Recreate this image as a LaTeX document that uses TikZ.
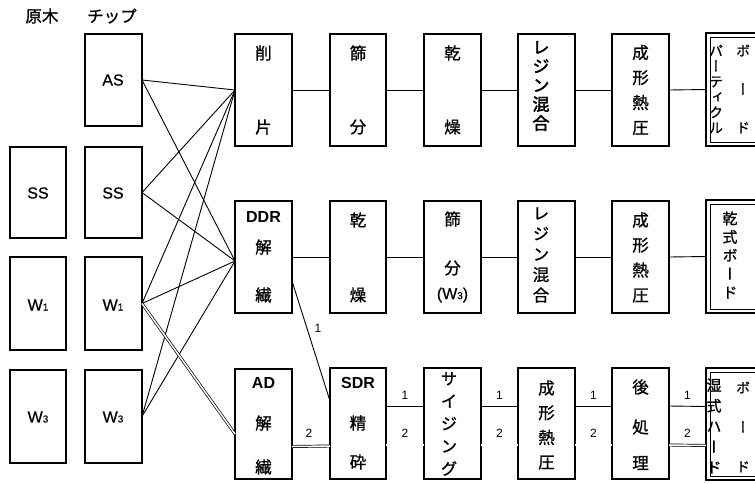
\documentclass[tikz,border=0pt]{standalone}
\usepackage{fontspec}
\setmainfont{Liberation Sans}
\newfontfamily\latm[FakeBold=0.6]{Liberation Sans}
\newfontfamily\jp[FakeBold=1]{Noto Sans CJK JP}
\newfontfamily\jpv[RawFeature=+vert,FakeBold=1]{Noto Sans CJK JP}
\newfontfamily\jpvb[RawFeature=+vert,FakeBold=2.5]{Noto Sans CJK JP}
\usetikzlibrary{calc}
\newcommand\bx[6][]{\node[box,#1,minimum width={#4-#2},minimum height={#5-#3}] (#6) at ({(#2+#4)/2},{(#3+#5)/2}) {};}
\newcommand\Wn[1]{W{\fontsize{10}{10}\selectfont #1}}
\begin{document}
\begin{tikzpicture}[x=1pt,y=-1pt,
  box/.style={draw,line width=1.3pt,inner sep=0pt,outer sep=0pt},
  thickbox/.style={line width=1.9pt},
  ln/.style={line width=0.9pt},
  dbl/.style={double,double distance=1.5pt,line width=0.7pt},
  lat/.style={font=\latm\fontsize{16}{16}\selectfont,inner sep=0pt},
  latb/.style={font=\bfseries\fontsize{16}{16}\selectfont,inner sep=0pt},
  kj/.style={font=\jp\fontsize{16.5}{16.5}\selectfont,inner sep=0pt},
  vt/.style={font=\jpv\fontsize{16.5}{#1}\selectfont,align=center,inner sep=0pt},
  vtb/.style={font=\jpvb\fontsize{17}{#1}\selectfont,align=center,inner sep=0pt},
  vts/.style={font=\jpv\fontsize{14}{#1}\selectfont,align=center,inner sep=0pt},
  vtm/.style={font=\jpv\fontsize{15}{#1}\selectfont,align=center,inner sep=0pt},
  lab/.style={font=\fontsize{12}{12}\selectfont,inner sep=0pt},
 ]
\clip (0,0) rectangle (755,483);
% headings
\node[kj] (hGenboku) at (42,16) {原木};
\node[kj] (hChip) at (112,16) {チップ};
% raw wood column
\bx{10}{147}{66}{238}{gSS}
\bx{10}{257}{66}{350}{gW1}
\bx{10}{370}{66}{463}{gW3}
\node[lat] (gSSt) at (38,193) {SS};
\node[lat] (gW1t) at (38,305) {\Wn{1}};
\node[lat] (gW3t) at (38,417) {\Wn{3}};
% chip column
\bx{85}{34}{142}{126}{cAS}
\bx{85}{147}{142}{238}{cSS}
\bx{85}{257}{142}{350}{cW1}
\bx{85}{370}{142}{463}{cW3}
\node[lat] (cASt) at (113,80) {AS};
\node[lat] (cSSt) at (113,193) {SS};
\node[lat] (cW1t) at (113,305) {\Wn{1}};
\node[lat] (cW3t) at (113,417) {\Wn{3}};
% top row
\bx{235}{34}{292}{146}{t1}
\bx{330}{34}{386}{146}{t2}
\bx{424}{34}{481}{146}{t3}
\bx[thickbox]{518}{34}{575}{146}{t4}
\bx{612}{34}{669}{146}{t5}
\bx{706}{33}{770}{146}{t6}
\draw[line width=0.9pt] ($(t6.north west)+(4,4)$) rectangle ($(t6.south east)+(-4,-4)$);
\node[kj] (t1a) at (263.5,53) {削};
\node[kj] (t1b) at (263.5,127) {片};
\node[kj] (t2a) at (358,53) {篩};
\node[kj] (t2b) at (358,127) {分};
\node[kj] (t3a) at (452.5,53) {乾};
\node[kj] (t3b) at (452.5,127) {燥};
\node[vtb=19] (t4t) at (541,86) {レ\\ジ\\ン\\混\\合};
\node[vt=25] (t5t) at (640.5,90) {成\\形\\熱\\圧};
\node[vts=15.4] (t6l) at (716,89) {パ\\ー\\テ\\ィ\\ク\\ル};
\node[vts=38.5] (t6r) at (743,89) {ボ\\ー\\ド};
% middle row
\bx{235}{201}{292}{313}{m1}
\bx{330}{201}{386}{313}{m2}
\bx{424}{201}{481}{313}{m3}
\bx{518}{201}{575}{313}{m4}
\bx{612}{201}{669}{313}{m5}
\bx{706}{200}{770}{313}{m6}
\draw[line width=0.9pt] ($(m6.north west)+(4,4)$) rectangle ($(m6.south east)+(-4,-4)$);
\node[latb] (m1a) at (263.5,217) {DDR};
\node[kj] (m1b) at (263.5,247) {解};
\node[kj] (m1c) at (263.5,295) {繊};
\node[kj] (m2a) at (358,220) {乾};
\node[kj] (m2b) at (358,295) {燥};
\node[kj] (m3a) at (452.5,219) {篩};
\node[kj] (m3b) at (452.5,268) {分};
\node[lat] (m3c) at (452.5,295) {(\Wn{3})};
\node[vt=20.5] (m4t) at (541,255) {レ\\ジ\\ン\\混\\合};
\node[vt=25] (m5t) at (640.5,257.5) {成\\形\\熱\\圧};
\node[vtm=18.5] (m6t) at (730,255) {乾\\式\\ボ\\ー\\ド};
% bottom row
\bx{235}{369}{292}{479}{b1}
\bx{330}{368}{386}{479}{b2}
\bx{424}{368}{481}{479}{b3}
\bx{518}{368}{575}{479}{b4}
\bx{612}{368}{669}{479}{b5}
\bx{706}{368}{770}{480}{b6}
\draw[line width=0.9pt] ($(b6.north west)+(4,4)$) rectangle ($(b6.south east)+(-4,-4)$);
\node[latb] (b1a) at (263.5,383) {AD};
\node[kj] (b1b) at (263.5,423) {解};
\node[kj] (b1c) at (263.5,467) {繊};
\node[latb] (b2a) at (358,383) {SDR};
\node[kj] (b2b) at (358,423) {精};
\node[kj] (b2c) at (358,462) {砕};
\node[vt=22.5] (b3t) at (449,424) {サ\\イ\\ジ\\ン\\グ};
\node[vt=24.7] (b4t) at (546.5,425) {成\\形\\熱\\圧};
\node[kj] (b5a) at (640.5,387) {後};
\node[kj] (b5b) at (640.5,427) {処};
\node[kj] (b5c) at (640.5,463) {理};
\node[vtm=20.5] (b6l) at (714,426) {湿\\式\\ハ\\ー\\ド};
\node[vts=39.5] (b6r) at (743,427) {ボ\\ー\\ド};
% fan connectors chips -> 削片 / DDR解繊
\foreach \c in {cAS,cSS,cW1,cW3}{
  \draw[ln] (\c.east) -- (t1.west);
  \draw[ln] (\c.east) -- ([yshift=-4pt]m1.west);
}
\draw[dbl] (cW1.east) -- ([yshift=-10pt]b1.west);
% top row
\draw[ln] (t1.east) -- (t2.west);
\draw[ln] (t2.east) -- (t3.west);
\draw[ln] (t3.east) -- (t4.west);
\draw[ln] (t4.east) -- (t5.west);
\draw[ln] (t5.east) -- (t6.west);
% middle row
\draw[ln] (m1.east) -- (m2.west);
\draw[ln] (m2.east) -- (m3.west);
\draw[ln] (m3.east) -- (m4.west);
\draw[ln] (m4.east) -- (m5.west);
\draw[ln] (m5.east) -- (m6.west);
% DDR -> SDR
\draw[ln] ([yshift=-24pt]m1.east) -- ([yshift=22.5pt]b2.west);
\node[lab] (l1) at (318,328) {1};
% AD -> SDR
\draw[dbl] ([yshift=-22.5pt]b1.east) -- ([yshift=-22.5pt]b2.west);
\node[lab] (l2) at (309,433) {2};
% bottom row two streams
\foreach \a/\b in {b2/b3,b3/b4,b4/b5,b5/b6}{
  \draw[ln] ([yshift=17.5pt]\a.east) -- ([yshift=17.5pt]\b.west) node[lab,midway,yshift=11pt] {1};
  \draw[dbl] ([yshift=-21.5pt]\a.east) -- ([yshift=-21.5pt]\b.west) node[lab,midway,yshift=12pt] {2};
}
\end{tikzpicture}
\end{document}
